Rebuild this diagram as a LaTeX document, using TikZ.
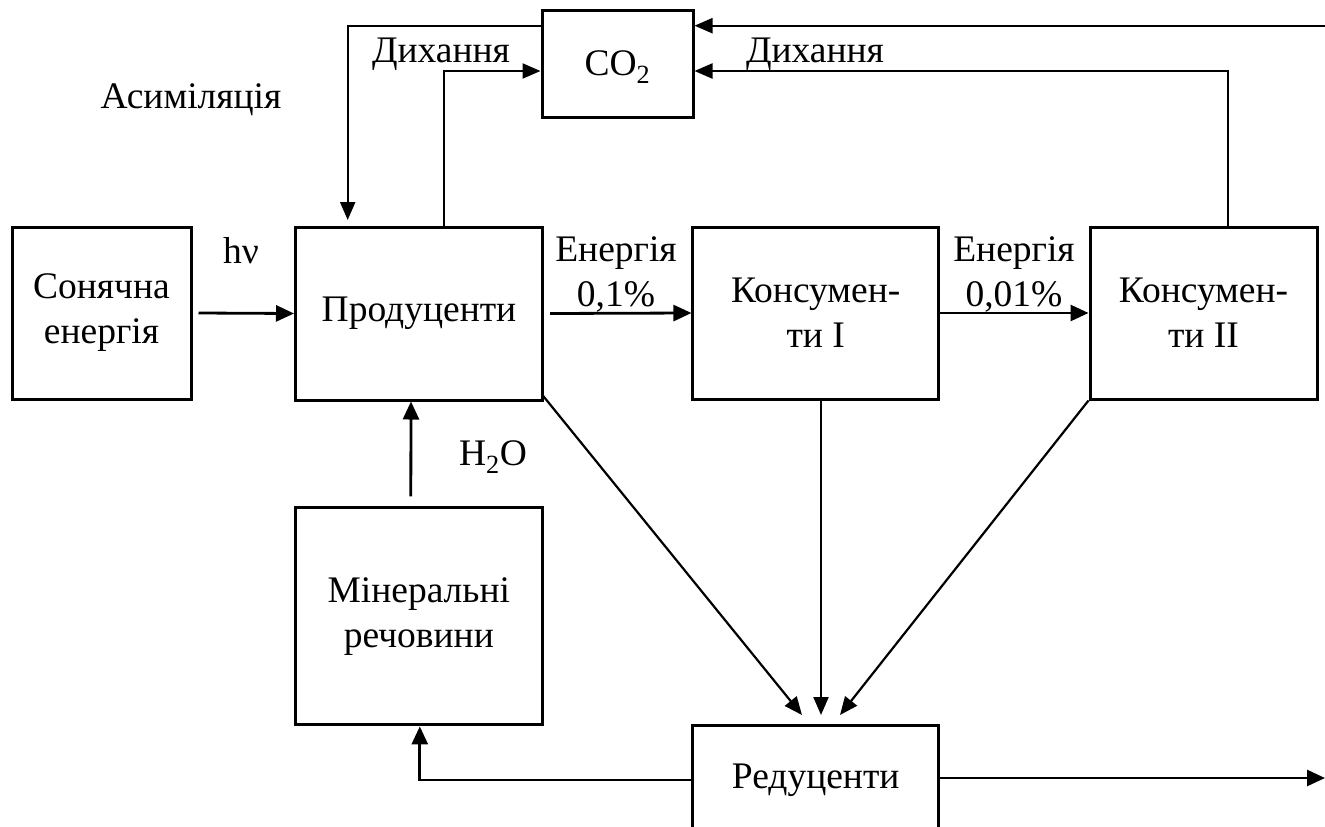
\documentclass[tikz,border=0pt]{standalone}
\usepackage{fontspec}
\setmainfont{Liberation Serif}
\usetikzlibrary{arrows.meta}
\begin{document}
\begin{tikzpicture}[x=1pt,y=-1pt,
  txt/.style={font=\fontsize{37.5}{45}\selectfont},
  box/.style={txt,draw,line width=3pt,inner sep=0pt,align=center},
  lbl/.style={txt,inner sep=0pt,align=center},
  arr/.style={line width=2.8pt,-{Triangle[length=18pt,width=16pt]}},
  thinarr/.style={line width=2.2pt,-{Triangle[length=18pt,width=15pt]}}]
\useasboundingbox (0,0) rectangle (1325,827);
\clip (0,0) rectangle (1325,827);
\fill[white] (0,0) rectangle (1325,827);

% boxes
\node[box,minimum width=179pt,minimum height=172pt] (sun) at (101.5,313) {Сонячна\\енергія};
\node[box,minimum width=247pt,minimum height=173pt] (prod) at (419,313.5) {Продуценти};
\node[box,minimum width=245.5pt,minimum height=172pt] (k1) at (815.7,313) {Консумен-\\ти I};
\node[box,minimum width=227pt,minimum height=172pt] (k2) at (1203.5,313) {Консумен-\\ти II};
\node[box,minimum width=151pt,minimum height=107pt] (co2) at (617.5,64.3) {};
\node[lbl] (co2t) at (617.5,67) {CO\textsubscript{2}};
\node[box,minimum width=246.4pt,minimum height=217pt] (min) at (418.8,616.4) {Мінеральні\\речовини};
\node[box,minimum width=245.5pt,minimum height=110pt] (red) at (815.7,780) {Редуценти};

% labels
\node[lbl,anchor=base] (dyh1) at (441,62) {Дихання};
\node[lbl,anchor=base] (dyh2) at (815,62) {Дихання};
\node[lbl,anchor=base] (asim) at (191,108) {Асиміляція};
\node[lbl,anchor=base] (hv) at (241,263) {hν};
\node[lbl] (e1) at (616,274) {Енергія\\0,1\%};
\node[lbl] (e2) at (1014,274) {Енергія\\0,01\%};
\node[lbl,anchor=base] (h2o) at (493,465) {H\textsubscript{2}O};

% free ends
\coordinate (asimEnd) at (347.7,220);
\coordinate (inR) at (1326,25.7);
\coordinate (outR) at (1325,778);
\coordinate (dL) at (802,715);
\coordinate (dM) at (821,715);
\coordinate (dR) at (840,715);

% main chain
\draw[arr] ([xshift=6pt]sun.east) -- (prod.west);
\draw[arr] ([xshift=6pt]prod.east) -- (k1.west);
\draw[arr] (k1.east) -- (k2.west);
\draw[arr] ([xshift=-8pt,yshift=10pt]min.north) -- ([xshift=-8pt]prod.south);
\draw[arr] (red.west) -| ([xshift=1pt]min.south);
\draw[arr] (red.east |- outR) -- (outR);

% to reducers
\draw[thinarr] ([shift={(-2pt,7pt)}]prod.south east) -- (dL);
\draw[thinarr] (k1.south -| dM) -- (dM);
\draw[thinarr] (k2.south west) -- (dR);

% CO2 cycle
\draw[thinarr] ([xshift=25pt]prod.north) |- ([yshift=-6.7pt]co2.west);
\draw[thinarr] (co2.west |- inR) -| (asimEnd);
\draw[thinarr] ([xshift=24.5pt]k2.north) |- ([yshift=-6.7pt]co2.east);
\draw[thinarr] (inR) -- (co2.east |- inR);
\end{tikzpicture}
\end{document}
